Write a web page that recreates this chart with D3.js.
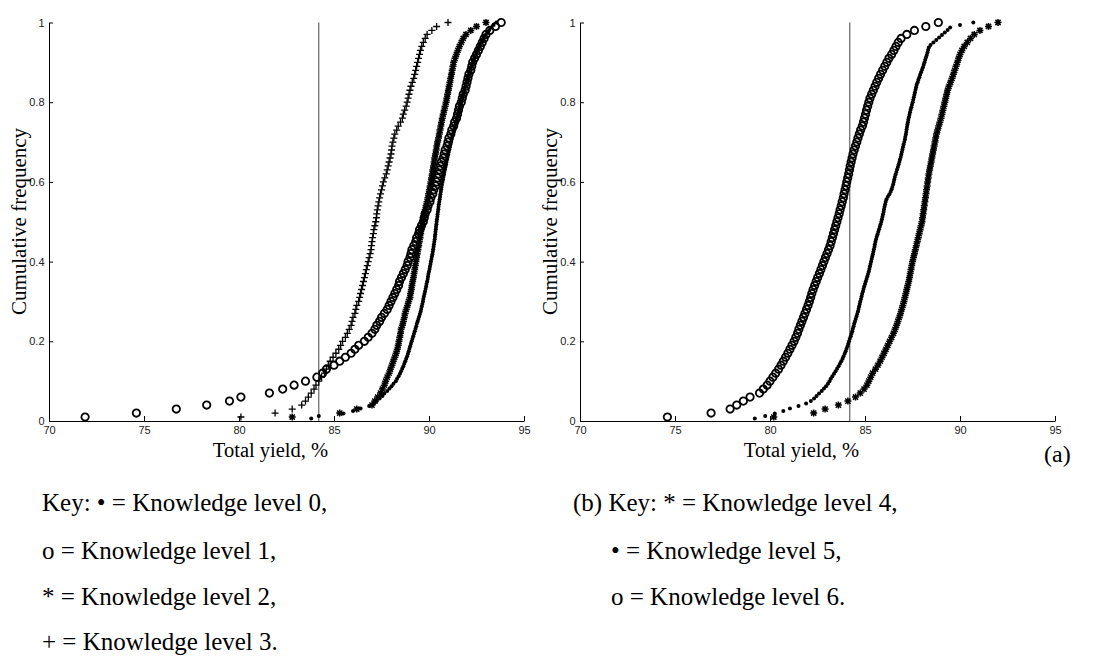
<!DOCTYPE html>
<html>
<head>
<meta charset="utf-8">
<script src="https://cdn.jsdelivr.net/npm/d3@7"></script>
<style>
  body { margin: 0; background: #fff; }
  .tick text { font-family: "Liberation Sans", Arial, sans-serif; font-size: 11px; fill: #222; }
  .serif { font-family: "Liberation Serif", "Times New Roman", serif; fill: #000; }
</style>
</head>
<body>
<svg id="chart" width="1098" height="657"></svg>
<script>
const xTicks = [70, 75, 80, 85, 90, 95];
const yTicks = [0, 0.2, 0.4, 0.6, 0.8, 1];
const refYield = 84.2;

// sorted total yields, cumulative frequency = rank / count
// panel (a)
const level0Yield = [
  83.8, 84.2, 85.5, 86.0, 86.4, 86.85, 87.1, 87.25, 87.4, 87.55,
  87.65, 87.8, 87.92, 88.03, 88.13, 88.25, 88.32, 88.4, 88.47, 88.53,
  88.59, 88.65, 88.7, 88.75, 88.8, 88.85, 88.89, 88.93, 88.97, 89.01,
  89.05, 89.09, 89.13, 89.17, 89.21, 89.25, 89.29, 89.33, 89.36, 89.4,
  89.44, 89.48, 89.52, 89.56, 89.59, 89.62, 89.65, 89.68, 89.7, 89.73,
  89.76, 89.79, 89.82, 89.85, 89.87, 89.9, 89.93, 89.95, 89.97, 90.0,
  90.03, 90.05, 90.08, 90.1, 90.13, 90.15, 90.18, 90.2, 90.22, 90.24,
  90.26, 90.28, 90.3, 90.31, 90.33, 90.34, 90.36, 90.37, 90.39, 90.4,
  90.42, 90.44, 90.45, 90.47, 90.49, 90.5, 90.52, 90.54, 90.56, 90.58,
  90.6, 90.62, 90.64, 90.66, 90.68, 90.71, 90.74, 90.76, 90.79, 90.81,
  90.84, 90.87, 90.9, 90.92, 90.95, 90.98, 91.01, 91.04, 91.07, 91.1,
  91.13, 91.16, 91.19, 91.22, 91.26, 91.29, 91.33, 91.36, 91.4, 91.43,
  91.47, 91.5, 91.53, 91.56, 91.59, 91.62, 91.66, 91.69, 91.72, 91.76,
  91.79, 91.83, 91.87, 91.9, 91.94, 91.98, 92.02, 92.06, 92.1, 92.14,
  92.18, 92.22, 92.26, 92.3, 92.35, 92.4, 92.45, 92.5, 92.56, 92.62,
  92.68, 92.75, 92.82, 92.9, 92.98, 93.07, 93.17, 93.28, 93.4, 93.55
];
const level1Yield = [
  71.9, 74.6, 76.7, 78.3, 79.5, 80.1, 81.6, 82.3, 82.9, 83.5,
  84.1, 84.4, 84.6, 85.0, 85.3, 85.6, 85.9, 86.1, 86.3, 86.6,
  86.8, 87.0, 87.15, 87.25, 87.4, 87.5, 87.65, 87.8, 87.9, 88.0,
  88.1, 88.2, 88.3, 88.4, 88.45, 88.55, 88.65, 88.75, 88.85, 88.9,
  89.0, 89.05, 89.1, 89.2, 89.3, 89.35, 89.45, 89.5, 89.6, 89.7,
  89.75, 89.8, 89.9, 89.95, 90.05, 90.1, 90.2, 90.25, 90.35, 90.4,
  90.45, 90.5, 90.55, 90.6, 90.65, 90.75, 90.8, 90.85, 90.95, 91.0,
  91.05, 91.15, 91.2, 91.3, 91.35, 91.45, 91.5, 91.55, 91.6, 91.7,
  91.75, 91.8, 91.9, 91.95, 92.0, 92.05, 92.1, 92.2, 92.25, 92.3,
  92.4, 92.5, 92.6, 92.7, 92.8, 92.9, 93.0, 93.2, 93.5, 93.8
];
const level2Yield = [
  82.8, 85.3, 86.2, 87.0, 87.15, 87.3, 87.45, 87.55, 87.65, 87.72,
  87.8, 87.9, 87.97, 88.05, 88.12, 88.2, 88.27, 88.33, 88.38, 88.42,
  88.46, 88.5, 88.53, 88.6, 88.65, 88.7, 88.74, 88.8, 88.87, 88.93,
  89.0, 89.03, 89.07, 89.1, 89.14, 89.18, 89.21, 89.25, 89.28, 89.31,
  89.35, 89.38, 89.42, 89.46, 89.49, 89.53, 89.56, 89.6, 89.63, 89.67,
  89.7, 89.75, 89.8, 89.85, 89.9, 89.94, 89.98, 90.02, 90.06, 90.1,
  90.13, 90.17, 90.2, 90.24, 90.27, 90.3, 90.34, 90.38, 90.41, 90.45,
  90.5, 90.54, 90.58, 90.62, 90.66, 90.7, 90.75, 90.8, 90.85, 90.9,
  90.94, 90.98, 91.02, 91.06, 91.1, 91.14, 91.18, 91.22, 91.26, 91.3,
  91.37, 91.44, 91.52, 91.6, 91.7, 91.8, 91.95, 92.2, 92.5, 93.0
];
const level3Yield = [
  80.1, 81.9, 82.8, 83.3, 83.5, 83.65, 83.8, 83.95, 84.05, 84.2,
  84.35, 84.5, 84.6, 84.7, 84.8, 84.95, 85.1, 85.25, 85.35, 85.45,
  85.6, 85.7, 85.8, 85.9, 85.95, 86.0, 86.1, 86.15, 86.2, 86.3,
  86.35, 86.4, 86.45, 86.5, 86.55, 86.6, 86.65, 86.7, 86.75, 86.8,
  86.85, 86.9, 86.95, 86.97, 87.0, 87.03, 87.07, 87.1, 87.15, 87.2,
  87.23, 87.25, 87.28, 87.32, 87.36, 87.4, 87.45, 87.5, 87.55, 87.6,
  87.67, 87.75, 87.8, 87.85, 87.9, 87.95, 88.0, 88.03, 88.05, 88.1,
  88.15, 88.2, 88.3, 88.38, 88.5, 88.6, 88.65, 88.72, 88.8, 88.85,
  88.9, 88.95, 89.0, 89.05, 89.12, 89.2, 89.25, 89.3, 89.35, 89.4,
  89.45, 89.5, 89.55, 89.62, 89.7, 89.8, 89.9, 90.15, 90.4, 91.0
];
// panel (b)
const level4Yield = [
  80.2, 82.3, 82.9, 83.6, 84.1, 84.5, 84.75, 84.95, 85.1, 85.2,
  85.3, 85.4, 85.55, 85.68, 85.8, 85.9, 86.0, 86.1, 86.2, 86.3,
  86.4, 86.5, 86.58, 86.66, 86.73, 86.8, 86.87, 86.93, 86.99, 87.05,
  87.1, 87.15, 87.2, 87.25, 87.3, 87.34, 87.38, 87.42, 87.46, 87.5,
  87.55, 87.6, 87.65, 87.7, 87.75, 87.8, 87.85, 87.9, 87.95, 88.0,
  88.03, 88.06, 88.09, 88.12, 88.15, 88.18, 88.21, 88.24, 88.27, 88.3,
  88.33, 88.36, 88.4, 88.44, 88.48, 88.52, 88.56, 88.6, 88.64, 88.68,
  88.72, 88.76, 88.82, 88.88, 88.94, 89.0, 89.05, 89.1, 89.15, 89.2,
  89.25, 89.3, 89.35, 89.42, 89.5, 89.58, 89.65, 89.72, 89.79, 89.86,
  89.93, 90.0, 90.1, 90.22, 90.38, 90.55, 90.75, 91.05, 91.5, 92.0
];
const level5Yield = [
  79.2, 79.75, 80.25, 80.7, 81.05, 81.5, 81.9, 82.15, 82.32, 82.45,
  82.58, 82.72, 82.84, 82.95, 83.05, 83.13, 83.2, 83.28, 83.37, 83.45,
  83.53, 83.61, 83.68, 83.75, 83.82, 83.87, 83.93, 83.98, 84.03, 84.08,
  84.12, 84.16, 84.2, 84.25, 84.29, 84.33, 84.36, 84.4, 84.43, 84.47,
  84.51, 84.55, 84.59, 84.63, 84.66, 84.69, 84.72, 84.75, 84.79, 84.82,
  84.85, 84.89, 84.92, 84.96, 85.0, 85.04, 85.08, 85.12, 85.16, 85.2,
  85.23, 85.26, 85.29, 85.32, 85.35, 85.38, 85.41, 85.44, 85.47, 85.5,
  85.52, 85.55, 85.58, 85.62, 85.66, 85.7, 85.74, 85.78, 85.82, 85.86,
  85.89, 85.92, 85.95, 85.98, 86.0, 86.03, 86.06, 86.09, 86.13, 86.2,
  86.28, 86.35, 86.4, 86.44, 86.48, 86.51, 86.54, 86.57, 86.61, 86.65,
  86.69, 86.73, 86.77, 86.81, 86.84, 86.88, 86.91, 86.94, 86.97, 87.0,
  87.03, 87.07, 87.1, 87.12, 87.15, 87.17, 87.19, 87.21, 87.23, 87.26,
  87.28, 87.31, 87.34, 87.37, 87.4, 87.44, 87.47, 87.51, 87.54, 87.57,
  87.6, 87.63, 87.66, 87.69, 87.72, 87.77, 87.81, 87.86, 87.9, 87.95,
  88.0, 88.05, 88.09, 88.13, 88.17, 88.21, 88.25, 88.29, 88.32, 88.36,
  88.45, 88.6, 88.75, 88.9, 89.05, 89.2, 89.35, 89.48, 90.0, 90.7
];
const level6Yield = [
  74.6, 76.9, 77.9, 78.25, 78.6, 78.95, 79.45, 79.65, 79.85, 80.0,
  80.15, 80.3, 80.45, 80.58, 80.7, 80.82, 80.94, 81.05, 81.16, 81.27,
  81.36, 81.45, 81.52, 81.6, 81.68, 81.76, 81.84, 81.92, 82.0, 82.07,
  82.14, 82.2, 82.27, 82.35, 82.43, 82.51, 82.6, 82.68, 82.76, 82.84,
  82.92, 83.0, 83.08, 83.16, 83.22, 83.28, 83.34, 83.4, 83.46, 83.52,
  83.58, 83.64, 83.69, 83.75, 83.8, 83.86, 83.9, 83.95, 84.0, 84.04,
  84.09, 84.14, 84.18, 84.22, 84.27, 84.32, 84.37, 84.43, 84.5, 84.57,
  84.63, 84.7, 84.77, 84.86, 84.92, 84.97, 85.03, 85.08, 85.14, 85.2,
  85.26, 85.35, 85.44, 85.53, 85.62, 85.72, 85.82, 85.93, 86.04, 86.15,
  86.26, 86.4, 86.52, 86.63, 86.75, 86.9, 87.2, 87.6, 88.2, 88.86
];

const keyA = ['Key: \u2022 = Knowledge level 0,', 'o = Knowledge level 1,', '* = Knowledge level 2,', '+ = Knowledge level 3.'];
const keyB = ['(b) Key: * = Knowledge level 4,', '\u2022 = Knowledge level 5,', 'o = Knowledge level 6.'];

const svg = d3.select('#chart');
const plotW = 475, plotH = 398.5;

const x = d3.scaleLinear().domain([70, 95]).range([0, plotW]);
const y = d3.scaleLinear().domain([0, 1]).range([plotH, 0]);

const markerPath = {
  circle: d3.symbol(d3.symbolCircle, Math.PI * 3.7 * 3.7)(),
  plus: 'M-3.5,0H3.5M0,-3.5V3.5',
  star: 'M-3.5,0H3.5M0,-3.5V3.5M-2.6,-2.6L2.6,2.6M-2.6,2.6L2.6,-2.6'
};
const markerStroke = { circle: 1.8, plus: 1.3, star: 1.5 };

function drawPanel(left, series) {
  const g = svg.append('g').attr('transform', `translate(${left},22.5)`);

  g.append('line')
    .attr('x1', x(refYield)).attr('x2', x(refYield))
    .attr('y1', 0).attr('y2', plotH)
    .attr('stroke', '#444').attr('stroke-width', 1);

  series.forEach(s => {
    const n = s.values.length;
    const pts = s.values.map((v, i) => [v, (i + 1) / n]);
    const sg = g.append('g');
    if (s.marker === 'dot') {
      sg.selectAll('circle').data(pts).enter().append('circle')
        .attr('cx', d => x(d[0])).attr('cy', d => y(d[1]))
        .attr('r', 2).attr('fill', '#000');
    } else {
      sg.selectAll('path').data(pts).enter().append('path')
        .attr('transform', d => `translate(${x(d[0])},${y(d[1])})`)
        .attr('d', markerPath[s.marker])
        .attr('fill', 'none').attr('stroke', '#000')
        .attr('stroke-width', markerStroke[s.marker]);
    }
  });

  const xAxis = d3.axisBottom(x).tickValues(xTicks).tickSizeInner(-5).tickSizeOuter(0).tickPadding(5.5);
  const yAxis = d3.axisLeft(y).tickValues(yTicks).tickSizeInner(-4).tickSizeOuter(0).tickPadding(4.5)
    .tickFormat(d => String(d));

  const gx = g.append('g').attr('transform', `translate(0,${plotH})`).call(xAxis);
  const gy = g.append('g').call(yAxis);
  [gx, gy].forEach(a => {
    a.selectAll('.domain').attr('stroke', '#000');
    a.selectAll('.tick line').attr('stroke', '#000');
    a.attr('font-family', null).attr('font-size', null);
  });

  svg.append('text').attr('class', 'serif')
    .attr('transform', `translate(${left - 23.5},221.5) rotate(-90)`)
    .attr('text-anchor', 'middle').attr('font-size', 21)
    .text('Cumulative frequency');

  svg.append('text').attr('class', 'serif')
    .attr('x', left + 221.5).attr('y', 456.7)
    .attr('text-anchor', 'middle').attr('font-size', 20.5)
    .text('Total yield, %');
}

drawPanel(49, [
  { values: level0Yield, marker: 'dot' },
  { values: level2Yield, marker: 'star' },
  { values: level1Yield, marker: 'circle' },
  { values: level3Yield, marker: 'plus' }
]);
drawPanel(580, [
  { values: level4Yield, marker: 'star' },
  { values: level5Yield, marker: 'dot' },
  { values: level6Yield, marker: 'circle' }
]);

svg.append('text').attr('class', 'serif')
  .attr('x', 1044).attr('y', 462).attr('font-size', 24)
  .text('(a)');

const keyY = [511, 559, 605, 650];
svg.append('g').selectAll('text').data(keyA).enter().append('text')
  .attr('class', 'serif').attr('font-size', 25)
  .attr('x', 42).attr('y', (d, i) => keyY[i])
  .text(d => d);
svg.append('g').selectAll('text').data(keyB).enter().append('text')
  .attr('class', 'serif').attr('font-size', 25)
  .attr('x', (d, i) => i === 0 ? 573 : 611).attr('y', (d, i) => keyY[i])
  .text(d => d);
</script>
</body>
</html>
